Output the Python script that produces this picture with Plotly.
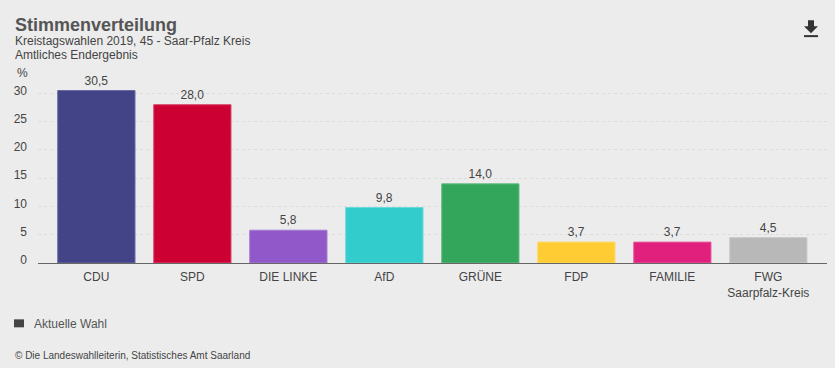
import plotly.graph_objects as go

parties = ["CDU", "SPD", "DIE LINKE", "AfD", "GRÜNE", "FDP", "FAMILIE", "FWG<br>Saarpfalz-Kreis"]
values = [30.5, 28.0, 5.8, 9.8, 14.0, 3.7, 3.7, 4.5]
colors = ["#434488", "#cc0033", "#9058c8", "#33cccc", "#33a65c", "#ffcc33", "#e0207c", "#b8b8b8"]
edges = ["#6a6ba3", "#dc4a70", "#a57cd4", "#66d9d9", "#66bd85", "#ffd966", "#e95fa0", "#cbcbcb"]
y_ticks = [0, 5, 10, 15, 20, 25, 30]

W, H = 835, 368
L, R, T, B = 38, 8, 80, 104.5
BG = "#ececec"
FONT = "Liberation Sans, Arial, sans-serif"

def px(x): return (x - L) / (W - L - R)
def py(y): return 1 - (y - T) / (H - T - B)

fig = go.Figure(go.Bar(
    x=list(range(len(parties))), y=values,
    width=0.805,
    marker=dict(color=colors, line=dict(color=edges, width=1)),
    text=values, texttemplate="%{y:.1f}", textposition="outside",
    textfont=dict(size=12, color="#444444", family=FONT),
    cliponaxis=False, showlegend=False, hoverinfo="x+y",
))

def note(x, y, text, size=12, color="#444444", bold=False, anchor="left"):
    fig.add_annotation(xref="paper", yref="paper", x=px(x), y=py(y), text=f"<b>{text}</b>" if bold else text,
                       showarrow=False, xanchor=anchor, yanchor="middle", align="left",
                       font=dict(size=size, color=color, family=FONT), borderpad=0, borderwidth=0)

note(15, 25, "Stimmenverteilung", size=18, color="#555555", bold=True)
note(15, 40.5, "Kreistagswahlen 2019, 45 - Saar-Pfalz Kreis")
note(15, 55, "Amtliches Endergebnis")
note(22, 73, "%", anchor="center")
note(34, 325, "Aktuelle Wahl", color="#555555")
note(15, 356.5, "© Die Landeswahlleiterin, Statistisches Amt Saarland", size=10)

def paper_path(points):
    return "M " + " L ".join(f"{px(x):.5f} {py(y):.5f}" for x, y in points) + " Z"

# legend swatch
fig.add_shape(type="rect", xref="paper", yref="paper", x0=px(14), x1=px(24), y0=py(320), y1=py(328),
              fillcolor="#444444", line_width=0)
# download icon
fig.add_shape(type="path", xref="paper", yref="paper", line_width=0, fillcolor="#333333",
              path=paper_path([(808, 20), (814, 20), (814, 26), (818, 26), (811, 33), (804, 26), (808, 26)]))
fig.add_shape(type="rect", xref="paper", yref="paper", x0=px(804), x1=px(818), y0=py(35), y1=py(37),
              fillcolor="#333333", line_width=0)

fig.update_layout(
    width=W, height=H, autosize=False,
    paper_bgcolor=BG, plot_bgcolor=BG,
    margin=dict(l=L, r=R, t=T, b=B, pad=0),
    separators=",.",
    font=dict(family=FONT, size=12, color="#444444"),
    bargap=0.2,
)
fig.update_xaxes(
    tickmode="array", tickvals=list(range(len(parties))), ticktext=parties,
    range=[-0.608, 7.611], showgrid=False, zeroline=False,
    showline=True, linecolor="#666666", linewidth=1, ticks="", ticklabelstandoff=3,
    tickfont=dict(size=12, color="#444444", family=FONT),
)
fig.update_yaxes(
    tickmode="array", tickvals=y_ticks, range=[0, 32.36],
    showgrid=True, gridcolor="#dcdcdc", griddash="dot", gridwidth=1,
    zeroline=False, showline=False, ticks="", ticklabelstandoff=10, ticklabelshift=-3,
    tickfont=dict(size=12, color="#444444", family=FONT),
)
fig.write_html("out.html", config={"displayModeBar": False},
               post_script="document.body.style.margin='0';document.body.style.background='#ececec';")
